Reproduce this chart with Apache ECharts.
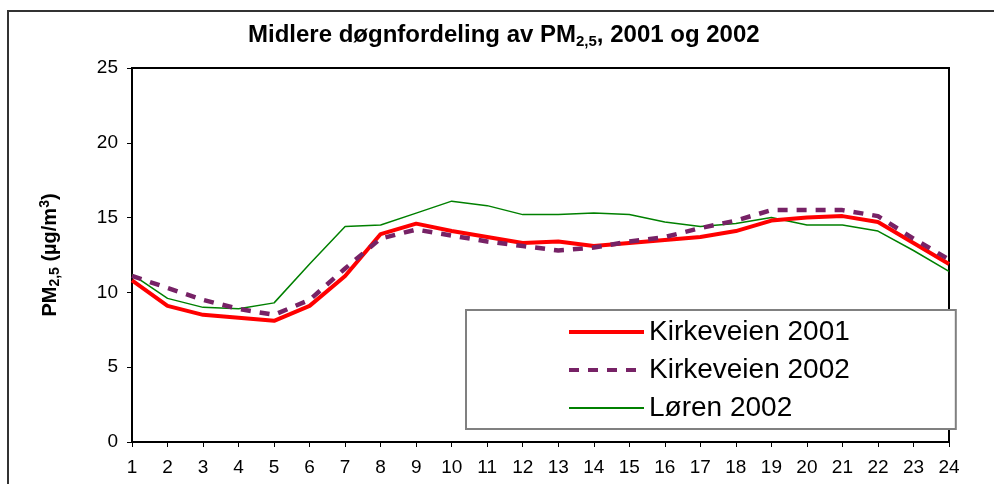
<!DOCTYPE html>
<html>
<head>
<meta charset="utf-8">
<style>
  html, body { margin: 0; padding: 0; background: #fff; }
  #chart { width: 994px; height: 484px; }
</style>
<script src="https://cdn.jsdelivr.net/npm/echarts@6/dist/echarts.min.js"></script>
</head>
<body>
<div id="chart"></div>
<script>
const hours = ["1", "2", "3", "4", "5", "6", "7", "8", "9", "10", "11", "12",
  "13", "14", "15", "16", "17", "18", "19", "20", "21", "22", "23", "24"];

const kirkeveien2001 = [10.8, 9.1, 8.5, 8.3, 8.1, 9.1, 11.1, 13.9, 14.6, 14.1, 13.7, 13.3,
  13.4, 13.1, 13.3, 13.5, 13.7, 14.1, 14.8, 15.0, 15.1, 14.7, 13.3, 11.9];
const kirkeveien2002 = [11.1, 10.3, 9.5, 8.9, 8.5, 9.5, 11.6, 13.6, 14.2, 13.8, 13.4, 13.1,
  12.8, 13.0, 13.4, 13.7, 14.3, 14.8, 15.5, 15.5, 15.5, 15.1, 13.6, 12.2];
const loren2002 = [11.2, 9.6, 9.0, 8.9, 9.3, 11.9, 14.4, 14.5, 15.3, 16.1, 15.8, 15.2,
  15.2, 15.3, 15.2, 14.7, 14.4, 14.6, 15.0, 14.5, 14.5, 14.1, 12.8, 11.4];

const font = "Liberation Sans";

const chart = echarts.init(document.getElementById("chart"));

const option = {
  animation: false,
  backgroundColor: "#fff",
  textStyle: { fontFamily: font },
  graphic: [
    {
      type: "rect",
      shape: { x: 8, y: 11, width: 1000, height: 500 },
      style: { fill: "none", stroke: "#333", lineWidth: 2 },
      silent: true
    }
  ],
  title: {
    left: 243,
    top: 16,
    text: "Midlere døgnfordeling av PM{sub|2,5}, 2001 og 2002",
    textStyle: {
      fontFamily: font,
      fontSize: 24,
      fontWeight: "bold",
      color: "#000",
      lineHeight: 28,
      rich: {
        sub: {
          fontFamily: font,
          fontSize: 15,
          fontWeight: "bold",
          color: "#000",
          lineHeight: 15,
          verticalAlign: "bottom"
        }
      }
    }
  },
  legend: {
    orient: "vertical",
    left: 466,
    top: 310,
    padding: [7, 106, 6, 101],
    itemWidth: 75,
    itemHeight: 30,
    itemGap: 8,
    backgroundColor: "#fff",
    borderColor: "#808080",
    borderWidth: 2,
    borderRadius: 0,
    itemStyle: { opacity: 0 },
    textStyle: {
      fontFamily: font,
      fontSize: 28,
      color: "#000",
      lineHeight: 30
    },
    data: [
      { name: "Kirkeveien 2001", lineStyle: { width: 4 } },
      { name: "Kirkeveien 2002", lineStyle: { width: 4 } },
      { name: "Løren 2002", lineStyle: { width: 2 } }
    ]
  },
  grid: {
    left: 132,
    top: 68,
    right: 45,
    bottom: 42,
    show: true,
    borderColor: "#000",
    borderWidth: 2,
    containLabel: false
  },
  xAxis: {
    type: "category",
    boundaryGap: false,
    data: hours,
    axisLine: { lineStyle: { color: "#000", width: 2 } },
    axisTick: { show: true, length: 5, lineStyle: { color: "#000", width: 1 }, alignWithLabel: true },
    axisLabel: { color: "#000", fontSize: 19, fontFamily: font, margin: 16, interval: 0 },
    splitLine: { show: false }
  },
  yAxis: {
    type: "value",
    min: 0,
    max: 25,
    interval: 5,
    name: "PM{sub|2,5} (µg/m{sup|3})",
    nameLocation: "middle",
    nameRotate: 90,
    nameGap: 70,
    nameTextStyle: {
      fontFamily: font,
      fontSize: 20,
      fontWeight: "bold",
      color: "#000",
      lineHeight: 24,
      rich: {
        sub: { fontFamily: font, fontSize: 14, fontWeight: "bold", color: "#000", lineHeight: 14, verticalAlign: "bottom" },
        sup: { fontFamily: font, fontSize: 14, fontWeight: "bold", color: "#000", lineHeight: 14, verticalAlign: "top" }
      }
    },
    axisLine: { show: true, lineStyle: { color: "#000", width: 2 } },
    axisTick: { show: true, length: 5, lineStyle: { color: "#000", width: 1 } },
    axisLabel: { color: "#000", fontSize: 19, fontFamily: font, margin: 14 },
    splitLine: { show: false }
  },
  series: [
    {
      name: "Kirkeveien 2001",
      type: "line",
      data: kirkeveien2001,
      symbol: "none",
      color: "#ff0000",
      lineStyle: { color: "#ff0000", width: 4 },
      z: 3
    },
    {
      name: "Kirkeveien 2002",
      type: "line",
      data: kirkeveien2002,
      symbol: "none",
      color: "#772266",
      lineStyle: { color: "#772266", width: 4.5, type: [10, 9], cap: "butt" },
      z: 4
    },
    {
      name: "Løren 2002",
      type: "line",
      data: loren2002,
      symbol: "none",
      color: "#008000",
      lineStyle: { color: "#008000", width: 1.5 },
      z: 2
    }
  ]
};

chart.setOption(option);
</script>
</body>
</html>
